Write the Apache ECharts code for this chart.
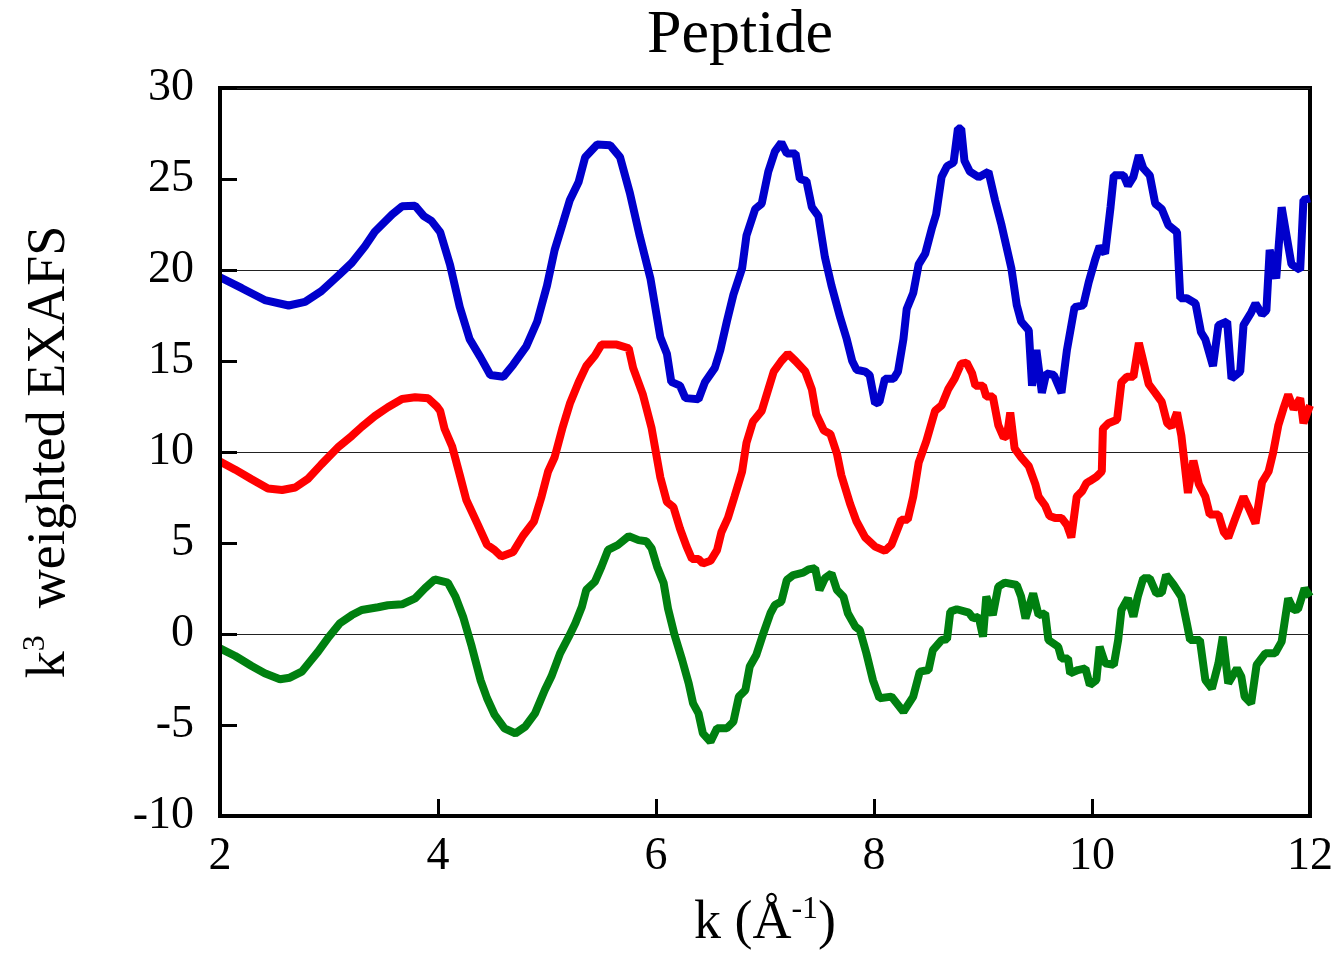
<!DOCTYPE html>
<html>
<head>
<meta charset="utf-8">
<title>Peptide</title>
<script src="https://cdn.jsdelivr.net/npm/echarts@6/dist/echarts.min.js"></script>
<style>
  html, body { margin: 0; padding: 0; background: #fff; }
  #chart { width: 1338px; height: 963px; }
</style>
</head>
<body>
<div id="chart"></div>
<script>
// k (1/Å) and k^3-weighted EXAFS
var blueData = [
  [2.00,19.6],[2.20,19.0],[2.41,18.35],[2.63,18.05],[2.78,18.25],[2.93,18.84],[3.09,19.72],[3.21,20.4],
  [3.33,21.3],[3.42,22.1],[3.58,23.06],[3.67,23.5],[3.79,23.53],[3.87,22.96],[3.94,22.7],[4.02,22.08],
  [4.11,20.3],[4.20,17.96],[4.29,16.2],[4.39,15.2],[4.48,14.23],[4.60,14.13],[4.69,14.8],[4.81,15.8],
  [4.91,17.17],[5.00,19.14],[5.07,21.1],[5.14,22.47],[5.21,23.85],[5.29,24.83],[5.35,26.2],[5.46,26.89],
  [5.58,26.85],[5.67,26.2],[5.76,24.24],[5.85,21.88],[5.95,19.5],[6.04,16.3],[6.10,15.4],[6.14,13.85],
  [6.22,13.65],[6.27,12.96],[6.39,12.9],[6.45,13.85],[6.54,14.62],[6.59,15.6],[6.65,17.17],[6.71,18.64],
  [6.79,20.1],[6.83,21.9],[6.91,23.35],[6.97,23.65],[7.03,25.4],[7.09,26.5],[7.15,27.0],[7.20,26.4],
  [7.28,26.4],[7.32,25.0],[7.38,24.9],[7.43,23.45],[7.49,22.96],[7.55,20.7],[7.61,19.14],[7.69,17.38],
  [7.75,16.2],[7.80,15.0],[7.84,14.52],[7.92,14.42],[7.96,14.23],[8.01,12.66],[8.05,12.75],[8.10,14.03],
  [8.18,14.03],[8.22,14.42],[8.27,16.2],[8.30,17.86],[8.36,18.74],[8.41,20.31],[8.47,20.9],[8.53,22.27],
  [8.57,23.06],[8.62,25.12],[8.67,25.7],[8.73,25.9],[8.77,27.77],[8.80,27.77],[8.83,26.0],[8.88,25.4],
  [8.96,25.1],[9.05,25.4],[9.11,23.85],[9.17,22.47],[9.26,20.1],[9.31,18.06],[9.35,17.17],[9.42,16.68],
  [9.45,13.64],[9.49,15.6],[9.54,13.25],[9.58,14.32],[9.65,14.23],[9.72,13.25],[9.77,15.6],[9.84,17.96],
  [9.92,18.06],[9.97,19.33],[10.03,20.6],[10.07,21.3],[10.12,20.9],[10.17,23.45],[10.20,25.2],[10.29,25.2],
  [10.33,24.63],[10.38,25.12],[10.43,26.3],[10.47,25.6],[10.53,25.2],[10.58,23.65],[10.64,23.35],[10.70,22.47],
  [10.78,22.08],[10.81,18.45],[10.87,18.45],[10.95,18.16],[11.00,16.58],[11.04,16.19],[11.11,14.72],[11.16,16.97],
  [11.24,17.17],[11.28,14.03],[11.36,14.42],[11.39,16.97],[11.46,17.66],[11.50,18.16],[11.56,17.56],[11.60,17.77],
  [11.63,21.1],[11.69,19.53],[11.74,23.45],[11.83,20.31],[11.91,20.0],[11.94,23.85],[12.00,23.94]
];

var redData = [
  [2.00,9.48],[2.14,9.03],[2.29,8.5],[2.44,7.99],[2.57,7.91],[2.69,8.05],[2.81,8.54],[2.93,9.32],
  [3.09,10.3],[3.21,10.89],[3.30,11.38],[3.42,11.97],[3.54,12.46],[3.67,12.91],[3.79,13.01],[3.91,12.95],
  [3.99,12.5],[4.02,12.26],[4.06,11.28],[4.13,10.3],[4.20,8.73],[4.26,7.36],[4.36,6.08],[4.45,4.9],
  [4.52,4.61],[4.58,4.26],[4.69,4.51],[4.78,5.4],[4.88,6.18],[4.95,7.55],[5.01,8.93],[5.07,9.71],
  [5.14,11.28],[5.21,12.66],[5.29,13.83],[5.36,14.72],[5.44,15.3],[5.50,15.9],[5.64,15.9],[5.75,15.7],
  [5.79,14.62],[5.88,13.15],[5.96,11.3],[6.04,8.6],[6.10,7.26],[6.16,6.97],[6.22,5.79],[6.28,4.81],
  [6.33,4.12],[6.39,4.12],[6.43,3.87],[6.50,4.02],[6.56,4.61],[6.60,5.59],[6.66,6.38],[6.72,7.55],
  [6.79,8.93],[6.83,10.5],[6.89,11.68],[6.97,12.26],[7.03,13.44],[7.08,14.42],[7.15,15.0],[7.21,15.4],
  [7.28,15.0],[7.37,14.42],[7.43,13.44],[7.47,12.07],[7.54,11.18],[7.60,10.99],[7.66,9.91],[7.70,8.73],
  [7.78,7.16],[7.84,6.18],[7.92,5.3],[8.01,4.8],[8.10,4.57],[8.16,4.9],[8.25,6.28],[8.31,6.28],
  [8.36,7.55],[8.41,9.42],[8.48,10.6],[8.56,12.26],[8.62,12.56],[8.68,13.44],[8.74,14.03],[8.80,14.85],
  [8.85,14.91],[8.90,14.32],[8.93,13.64],[9.00,13.64],[9.03,13.05],[9.09,13.05],[9.14,11.48],[9.19,10.79],
  [9.22,10.89],[9.25,12.17],[9.29,10.2],[9.35,9.71],[9.42,9.22],[9.48,8.24],[9.51,7.55],[9.57,7.06],
  [9.61,6.48],[9.66,6.38],[9.72,6.38],[9.77,5.99],[9.81,5.3],[9.86,7.55],[9.91,7.85],[9.95,8.3],
  [9.98,8.4],[10.04,8.63],[10.09,8.93],[10.10,11.28],[10.15,11.58],[10.23,11.77],[10.27,13.83],[10.32,14.13],
  [10.38,14.13],[10.43,15.99],[10.47,15.0],[10.52,13.73],[10.58,13.25],[10.64,12.75],[10.69,11.58],[10.73,11.38],
  [10.78,12.17],[10.82,10.89],[10.88,7.75],[10.93,9.52],[10.98,8.24],[11.04,7.55],[11.08,6.57],[11.16,6.57],
  [11.21,5.59],[11.25,5.3],[11.31,6.28],[11.39,7.55],[11.45,6.77],[11.50,6.08],[11.56,8.34],[11.62,8.93],
  [11.66,9.91],[11.71,11.48],[11.76,12.46],[11.80,13.15],[11.85,12.36],[11.91,12.95],[11.94,11.58],[12.00,12.56]
];

var greenData = [
  [2.00,-0.79],[2.14,-1.21],[2.29,-1.76],[2.41,-2.16],[2.55,-2.49],[2.64,-2.4],[2.75,-2.07],[2.83,-1.48],
  [2.90,-0.97],[3.00,-0.15],[3.10,0.59],[3.21,1.04],[3.30,1.32],[3.45,1.47],[3.54,1.58],[3.67,1.63],
  [3.79,1.96],[3.88,2.51],[3.97,3.0],[4.09,2.82],[4.16,2.05],[4.23,0.95],[4.31,-0.7],[4.39,-2.53],
  [4.45,-3.53],[4.52,-4.45],[4.61,-5.18],[4.71,-5.46],[4.80,-5.09],[4.89,-4.36],[4.98,-3.08],[5.04,-2.34],
  [5.12,-1.06],[5.20,-0.15],[5.26,0.59],[5.32,1.5],[5.36,2.42],[5.44,2.88],[5.50,3.7],[5.56,4.62],
  [5.65,4.89],[5.75,5.38],[5.84,5.16],[5.91,5.1],[5.96,4.7],[6.01,3.7],[6.07,2.8],[6.11,1.4],
  [6.17,-0.05],[6.24,-1.43],[6.30,-2.71],[6.34,-3.81],[6.39,-4.36],[6.43,-5.46],[6.50,-5.92],[6.56,-5.18],
  [6.65,-5.18],[6.71,-4.82],[6.76,-3.44],[6.82,-3.08],[6.86,-1.79],[6.92,-1.15],[6.98,-0.05],[7.05,1.14],
  [7.09,1.59],[7.15,1.78],[7.20,2.97],[7.26,3.24],[7.35,3.37],[7.40,3.55],[7.46,3.61],[7.50,2.42],
  [7.55,3.06],[7.61,3.33],[7.66,2.42],[7.72,2.05],[7.76,1.14],[7.83,0.4],[7.87,0.22],[7.93,-1.06],
  [7.99,-2.53],[8.05,-3.53],[8.16,-3.44],[8.27,-4.27],[8.36,-3.44],[8.42,-2.07],[8.50,-1.98],[8.54,-0.88],
  [8.62,-0.33],[8.67,-0.29],[8.70,1.23],[8.76,1.36],[8.87,1.17],[8.91,0.86],[8.96,0.95],[9.00,-0.15],
  [9.03,2.05],[9.09,1.04],[9.14,2.6],[9.20,2.82],[9.31,2.69],[9.35,2.05],[9.39,0.86],[9.46,2.23],
  [9.51,1.04],[9.57,1.14],[9.60,-0.33],[9.69,-0.7],[9.72,-1.34],[9.78,-1.34],[9.80,-2.16],[9.87,-1.98],
  [9.94,-1.89],[9.98,-2.8],[10.04,-2.53],[10.07,-0.7],[10.12,-1.61],[10.20,-1.7],[10.24,-0.33],[10.27,1.32],
  [10.33,1.96],[10.38,0.95],[10.42,2.05],[10.47,3.06],[10.53,3.06],[10.59,2.23],[10.64,2.27],[10.68,3.24],
  [10.75,2.69],[10.82,2.05],[10.87,0.59],[10.90,-0.33],[10.99,-0.33],[11.04,-2.53],[11.10,-2.99],[11.16,-1.61],
  [11.20,-0.15],[11.25,-2.71],[11.33,-1.89],[11.37,-2.34],[11.40,-3.44],[11.46,-3.81],[11.51,-1.7],[11.59,-1.06],
  [11.68,-1.06],[11.74,-0.42],[11.80,1.96],[11.85,1.32],[11.89,1.36],[11.95,2.51],[12.00,2.05]
];

var serif = "'Liberation Serif', 'DejaVu Serif', serif";

var chart = echarts.init(document.getElementById("chart"));

function line(data, color) {
  return {
    type: "line",
    data: data,
    showSymbol: false,
    lineStyle: { color: color, width: 8 },
    z: 3,
  };
}

var frameLine = { show: true, onZero: false, lineStyle: { color: "#000", width: 4 } };
var innerTick = { show: true, inside: true, length: 17, lineStyle: { color: "#000", width: 3 } };

chart.setOption({
  animation: false,
  backgroundColor: "#fff",
  title: {
    text: "Peptide",
    left: 642,
    top: 0,
    textStyle: { fontFamily: serif, fontSize: 62, fontWeight: "normal", color: "#000" },
  },
  grid: {
    left: 220,
    right: 28,
    top: 88,
    bottom: 147,
    show: true,
    borderColor: "#000",
    borderWidth: 4,
  },
  xAxis: {
    type: "value",
    min: 2,
    max: 12,
    interval: 2,
    name: "k (Å{sup|-1})",
    nameLocation: "middle",
    nameGap: 78,
    nameTextStyle: {
      fontFamily: serif,
      fontSize: 54,
      color: "#000",
      rich: {
        sup: { fontFamily: serif, fontSize: 32, color: "#000", verticalAlign: "top", lineHeight: 60 },
      },
    },
    axisLine: frameLine,
    axisTick: innerTick,
    splitLine: { show: false },
    axisLabel: { fontFamily: serif, fontSize: 46, color: "#000", margin: 18 },
    z: 5,
  },
  yAxis: [
    {
      type: "value",
      min: -10,
      max: 30,
      interval: 5,
      name: "k{sup|3}  weighted EXAFS",
      nameLocation: "middle",
      nameGap: 140,
      nameTextStyle: {
        fontFamily: serif,
        fontSize: 54,
        color: "#000",
        rich: {
          sup: { fontFamily: serif, fontSize: 32, color: "#000", verticalAlign: "top", lineHeight: 60 },
        },
      },
      axisLine: frameLine,
      axisTick: innerTick,
      splitLine: { show: false },
      axisLabel: { fontFamily: serif, fontSize: 46, color: "#000", margin: 26 },
      z: 5,
    },
    {
      // only the gridlines at every 10
      type: "value",
      min: -10,
      max: 30,
      interval: 10,
      position: "left",
      axisLine: { show: false, onZero: false },
      axisTick: { show: false },
      axisLabel: { show: false },
      splitLine: { show: true, lineStyle: { color: "#222", width: 1.2 } },
    },
  ],
  series: [
    line(blueData, "#0000cc"),
    line(redData, "#ff0000"),
    line(greenData, "#008010"),
  ],
});
</script>
</body>
</html>
